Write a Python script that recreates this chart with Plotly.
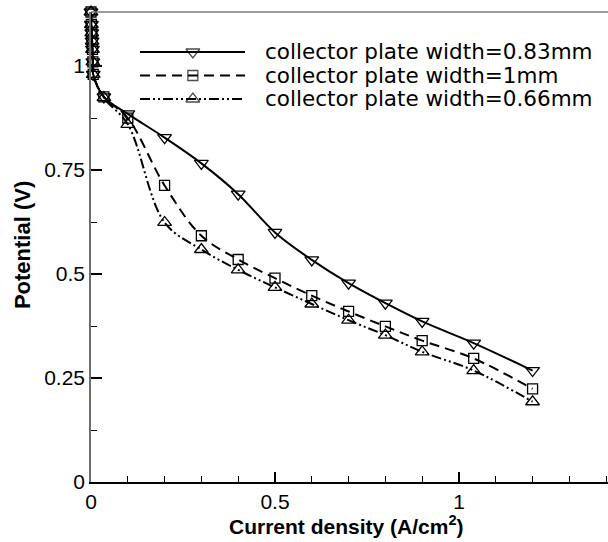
import plotly.graph_objects as go

# Polarization data: current density (A/cm^2) vs cell potential (V)
current = [0.0, 0.001, 0.002, 0.003, 0.004, 0.005, 0.006, 0.035, 0.1,
           0.2, 0.3, 0.4, 0.5, 0.6, 0.7, 0.8, 0.9, 1.04, 1.2]
pot_083 = [1.13, 1.10, 1.08, 1.06, 1.04, 1.01, 0.98, 0.926, 0.885,
           0.828, 0.766, 0.692, 0.600, 0.534, 0.478, 0.430, 0.386, 0.334, 0.268]
pot_100 = [1.13, 1.10, 1.08, 1.06, 1.04, 1.01, 0.98, 0.926, 0.875,
           0.713, 0.592, 0.535, 0.490, 0.448, 0.410, 0.374, 0.340, 0.297, 0.224]
pot_066 = [1.13, 1.10, 1.08, 1.06, 1.04, 1.01, 0.98, 0.924, 0.860,
           0.624, 0.559, 0.510, 0.468, 0.428, 0.389, 0.353, 0.313, 0.268, 0.193]

labels = ["collector plate width=0.83mm",
          "collector plate width=1mm",
          "collector plate width=0.66mm"]
symbols = ["triangle-down-open", "square-open", "triangle-up-open"]
dashes = ["solid", "10px,6px", "10px,3px,2px,3px,2px,3px"]
msizes = [12, 10, 12]

FONT = "Liberation Sans, Arial, Helvetica, sans-serif"
LEG_FONT = "DejaVu Sans, Verdana, sans-serif"

fig = go.Figure()
for ys, sym, dash, ms in zip([pot_083, pot_100, pot_066], symbols, dashes, msizes):
    fig.add_trace(go.Scatter(
        x=current, y=ys, mode="lines+markers",
        line=dict(color="black", width=2, dash=dash, shape="spline", smoothing=1.0),
        marker=dict(symbol=sym, size=ms, color="black", line=dict(width=1.3, color="black")),
        cliponaxis=False, showlegend=False,
    ))

# Hand-built legend with long line samples, placed in paper units
leg_x0, leg_xm, leg_x1 = 0.0948, 0.197, 0.2979
leg_text_x = 0.3327
leg_rows = [0.9149, 0.8649, 0.8149]
for lab, sym, dash, ms, yr in zip(labels, symbols, dashes, msizes, leg_rows):
    fig.add_trace(go.Scatter(
        x=[leg_x0, leg_xm, leg_x1], y=[yr, yr, yr], xaxis="x2", yaxis="y2",
        mode="lines+markers",
        line=dict(color="black", width=2, dash=dash),
        marker=dict(symbol=sym, size=[0, ms, 0], color="black",
                    line=dict(width=1.3, color="black")),
        showlegend=False, hoverinfo="skip", cliponaxis=False,
    ))
    fig.add_annotation(x=leg_text_x, y=yr, xref="paper", yref="paper",
                       text=lab, showarrow=False, xanchor="left", yanchor="middle",
                       font=dict(family=LEG_FONT, size=21.5, color="black"))

fig.add_annotation(x=0.4935, y=-0.0915, xref="paper", yref="paper",
                   text="<b>Current density (A/cm<sup>2</sup>)</b>", showarrow=False,
                   xanchor="center", yanchor="middle",
                   font=dict(family=FONT, size=21, color="black"))
fig.add_annotation(x=-0.1335, y=0.504, xref="paper", yref="paper",
                   text="<b>Potential (V)</b>", showarrow=False, textangle=-90,
                   xanchor="center", yanchor="middle",
                   font=dict(family=FONT, size=22, color="black"))

# top frame line
fig.add_shape(type="line", xref="paper", yref="paper", x0=0, x1=1, y0=1, y1=1,
              line=dict(color="#7a7a7a", width=1.5))

fig.update_layout(
    width=608, height=542,
    margin=dict(l=91, r=0, t=12, b=60),
    paper_bgcolor="white", plot_bgcolor="white",
    font=dict(family=FONT, size=21, color="black"),
    xaxis=dict(range=[0, 1.405], showline=True, linecolor="black", linewidth=1.5,
               ticks="inside", ticklen=10, tickwidth=2, tickcolor="black",
               tickvals=[0, 0.5, 1], ticktext=["0", "0.5", "1"],
               minor=dict(ticks="inside", ticklen=6, tickwidth=1, tickcolor="black",
                          tick0=0, dtick=0.1, showgrid=False),
               showgrid=False, zeroline=False,
               tickfont=dict(family=FONT, size=21, color="black")),
    yaxis=dict(range=[0, 1.13], showline=True, linecolor="#6e6e6e", linewidth=1.5,
               ticks="inside", ticklen=11, tickwidth=2, tickcolor="black",
               tickvals=[0, 0.25, 0.5, 0.75, 1],
               ticktext=["0", "0.25", "0.5", "0.75", "1"],
               minor=dict(ticks="inside", ticklen=6, tickwidth=1, tickcolor="black",
                          tick0=0, dtick=0.125, showgrid=False),
               showgrid=False, zeroline=False,
               tickfont=dict(family=FONT, size=21, color="black")),
    xaxis2=dict(overlaying="x", range=[0, 1], visible=False, fixedrange=True),
    yaxis2=dict(overlaying="y", range=[0, 1], visible=False, fixedrange=True),
)

fig.write_html("out.html")
